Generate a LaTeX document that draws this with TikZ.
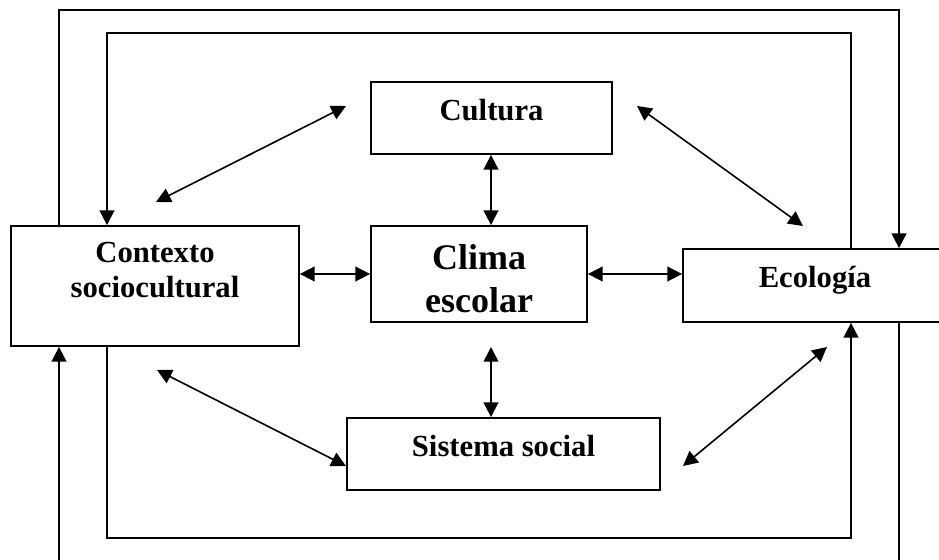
\documentclass[tikz,border=0pt]{standalone}
\usepackage{fontspec}
\setmainfont{Liberation Serif}
\usetikzlibrary{arrows.meta}
\tikzset{
	box/.style={draw,line width=1.3pt,inner sep=0pt},
	txt/.style={font=\bfseries\fontsize{23}{26}\selectfont,align=center,inner sep=0pt},
	bigtxt/.style={font=\bfseries\fontsize{27}{32}\selectfont,align=center,inner sep=0pt},
	link/.style={line width=1.2pt},
}
\begin{document}
\begin{tikzpicture}[x=0.75pt,y=0.75pt,>={Triangle[length=11pt,width=11pt]}]
	\useasboundingbox (0,0) rectangle (939,560);
	\node[box,minimum width=216pt,minimum height=90pt,label={[txt,yshift=12pt]center:Contexto\\sociocultural}] (contexto) at (155,274) {};
	\node[box,minimum width=180.75pt,minimum height=54pt,label={[txt,yshift=6pt]center:Cultura}] (cultura) at (491.5,442) {};
	\node[box,minimum width=162pt,minimum height=72pt,label={[bigtxt,yshift=-3.4pt]center:Clima\\escolar}] (clima) at (479,286) {};
	\node[box,minimum width=198pt,minimum height=54.75pt,label={[txt,yshift=4.2pt]center:Ecología}] (ecologia) at (815,274.5) {};
	\node[box,minimum width=234.75pt,minimum height=54pt,label={[txt,yshift=6pt]center:Sistema social}] (sistema) at (503.5,106) {};
	\coordinate (o1) at (59,550);
	\coordinate (o2) at (899,550);
	\coordinate (o3) at (59,0);
	\coordinate (o4) at (899,0);
	\coordinate (i1) at (107,527);
	\coordinate (i2) at (851,527);
	\coordinate (i3) at (107,22);
	\coordinate (i4) at (851,22);
	\coordinate (vx) at (491,0);
	\coordinate (cs) at (491,213);
	\coordinate (a1) at (156,358);
	\coordinate (a2) at (346,454);
	\coordinate (b1) at (637,454);
	\coordinate (b2) at (803,334);
	\coordinate (c1) at (157,190);
	\coordinate (c2) at (346,94);
	\coordinate (d1) at (683,94);
	\coordinate (d2) at (827,213);
	\draw[link,->] (contexto.north -| o1) -- (o1) -- (o2) -- (ecologia.north -| o2);
	\draw[link,->] (ecologia.north -| i2) -- (i2) -- (i1) -- (contexto.north -| i1);
	\draw[link,->] (contexto.south -| i3) -- (i3) -- (i4) -- (ecologia.south -| i4);
	\draw[link,->] (o3) -- (contexto.south -| o3);
	\draw[link] (ecologia.south -| o4) -- (o4);
	\draw[link,<->] (cultura.south -| vx) -- (clima.north -| vx);
	\draw[link,<->] (cs) -- (sistema.north -| cs);
	\draw[link,<->] (contexto.east |- clima.west) -- (clima.west);
	\draw[link,<->] (clima.east) -- (ecologia.west |- clima.east);
	\draw[link,<->] (a1) -- (a2);
	\draw[link,<->] (b1) -- (b2);
	\draw[link,<->] (c1) -- (c2);
	\draw[link,<->] (d1) -- (d2);
\end{tikzpicture}
\end{document}
